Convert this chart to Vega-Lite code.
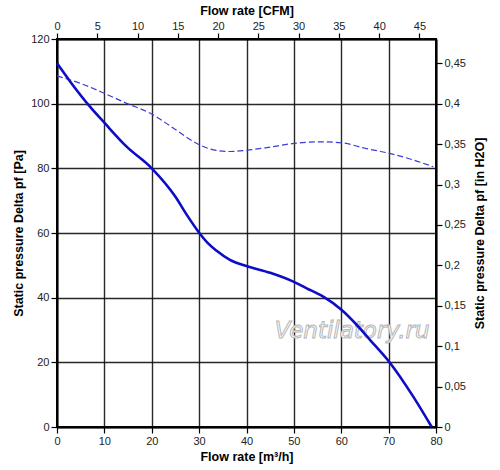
{
  "$schema": "https://vega.github.io/schema/vega-lite/v6.json",
  "width": 379,
  "height": 388,
  "autosize": "none",
  "padding": {"left": 57, "top": 39, "right": 64, "bottom": 43},
  "background": "#ffffff",
  "datasets": {
    "curve": [
      {"q": 0, "pa": 112.5},
      {"q": 2.8, "pa": 106.8},
      {"q": 7, "pa": 99},
      {"q": 10, "pa": 94.1},
      {"q": 14.7, "pa": 86.7},
      {"q": 20, "pa": 80},
      {"q": 25, "pa": 71.2},
      {"q": 27.4, "pa": 65.6},
      {"q": 30, "pa": 60.1},
      {"q": 31.9, "pa": 56.8},
      {"q": 33.7, "pa": 54.5},
      {"q": 36.5, "pa": 51.7},
      {"q": 40, "pa": 49.8},
      {"q": 45, "pa": 47.7},
      {"q": 50, "pa": 44.9},
      {"q": 52.7, "pa": 42.9},
      {"q": 56.2, "pa": 40.3},
      {"q": 60.1, "pa": 36.2},
      {"q": 63.2, "pa": 31.7},
      {"q": 66.1, "pa": 26.9},
      {"q": 70.1, "pa": 20.2},
      {"q": 75.2, "pa": 9.4},
      {"q": 79.1, "pa": 0}
    ],
    "dashed": [
      {"q": 0, "pa": 108.6},
      {"q": 4.9, "pa": 106.3},
      {"q": 10, "pa": 103.2},
      {"q": 14.7, "pa": 100.1},
      {"q": 20, "pa": 96.8},
      {"q": 24.6, "pa": 92.4},
      {"q": 29.5, "pa": 87.7},
      {"q": 32.3, "pa": 86},
      {"q": 36.5, "pa": 85.2},
      {"q": 40, "pa": 85.6},
      {"q": 44.3, "pa": 86.4},
      {"q": 50, "pa": 87.7},
      {"q": 55.5, "pa": 88.2},
      {"q": 60.1, "pa": 87.9},
      {"q": 65, "pa": 86.2},
      {"q": 70, "pa": 84.7},
      {"q": 75.2, "pa": 82.6},
      {"q": 79.4, "pa": 80.5}
    ],
    "imperial": [
      {"cfm": 0, "inh2o": 0},
      {"cfm": 45, "inh2o": 0.45}
    ],
    "mark": [
      {"q": 62.3, "pa": 29.8, "label": "Ventilatory.ru"}
    ]
  },
  "layer": [
    {
      "data": {"name": "mark"},
      "mark": {
        "type": "text",
        "font": "DejaVu Sans",
        "fontSize": 23,
        "fontStyle": "italic",
        "fill": "#ffffff",
        "stroke": "#b5b5b5",
        "strokeWidth": 1
      },
      "encoding": {
        "x": {"field": "q", "type": "quantitative", "scale": {"domain": [0, 80]}, "axis": null},
        "y": {"field": "pa", "type": "quantitative", "scale": {"domain": [0, 120]}, "axis": null},
        "text": {"field": "label"}
      }
    },
    {
      "data": {"name": "dashed"},
      "mark": {"type": "line", "interpolate": "monotone", "color": "#3b3bd6", "strokeWidth": 1.2, "strokeDash": [6, 3]},
      "encoding": {
        "x": {"field": "q", "type": "quantitative", "scale": {"domain": [0, 80]}, "axis": null},
        "y": {"field": "pa", "type": "quantitative", "scale": {"domain": [0, 120]}, "axis": null}
      }
    },
    {
      "data": {"name": "curve"},
      "mark": {"type": "line", "interpolate": "monotone", "color": "#0d0dc8", "strokeWidth": 2.6},
      "encoding": {
        "x": {
          "field": "q",
          "type": "quantitative",
          "scale": {"domain": [0, 80], "nice": false},
          "axis": {
            "orient": "bottom",
            "title": "Flow rate [m³/h]",
            "values": [0, 10, 20, 30, 40, 50, 60, 70, 80],
            "grid": true,
            "titlePadding": 4
          }
        },
        "y": {
          "field": "pa",
          "type": "quantitative",
          "scale": {"domain": [0, 120], "nice": false},
          "axis": {
            "orient": "left",
            "title": "Static pressure Delta pf [Pa]",
            "values": [0, 20, 40, 60, 80, 100, 120],
            "grid": true,
            "titlePadding": 5
          }
        }
      }
    },
    {
      "data": {"name": "imperial"},
      "mark": {"type": "point", "opacity": 0},
      "encoding": {
        "x": {
          "field": "cfm",
          "type": "quantitative",
          "scale": {"domain": [0, 47.06], "nice": false},
          "axis": {
            "orient": "top",
            "title": "Flow rate [CFM]",
            "values": [0, 5, 10, 15, 20, 25, 30, 35, 40, 45],
            "grid": false,
            "titlePadding": 3
          }
        },
        "y": {
          "field": "inh2o",
          "type": "quantitative",
          "scale": {"domain": [0, 0.48], "nice": false},
          "axis": {
            "orient": "right",
            "title": "Static pressure Delta pf [in H2O]",
            "values": [0, 0.05, 0.1, 0.15, 0.2, 0.25, 0.3, 0.35, 0.4, 0.45],
            "labelExpr": "replace(format(datum.value, '.2~f'), '.', ',')",
            "grid": false,
            "titleAngle": -90,
            "titleBaseline": "top",
            "titlePadding": 8
          }
        }
      }
    }
  ],
  "resolve": {"scale": {"x": "independent", "y": "independent"}},
  "config": {
    "view": {"stroke": "#000000", "strokeWidth": 2},
    "axis": {
      "domainColor": "#000000",
      "domainWidth": 2,
      "tickColor": "#000000",
      "tickSize": 6,
      "tickWidth": 1.2,
      "gridColor": "#111111",
      "gridWidth": 1.4,
      "gridOpacity": 0.9,
      "labelFont": "Liberation Sans",
      "labelFontSize": 11,
      "labelColor": "#222222",
      "labelPadding": 2,
      "labelFlush": false,
      "labelOverlap": false,
      "titleFont": "Liberation Sans",
      "titleFontSize": 12.5,
      "titleFontWeight": "bold",
      "titleColor": "#000000"
    }
  }
}
